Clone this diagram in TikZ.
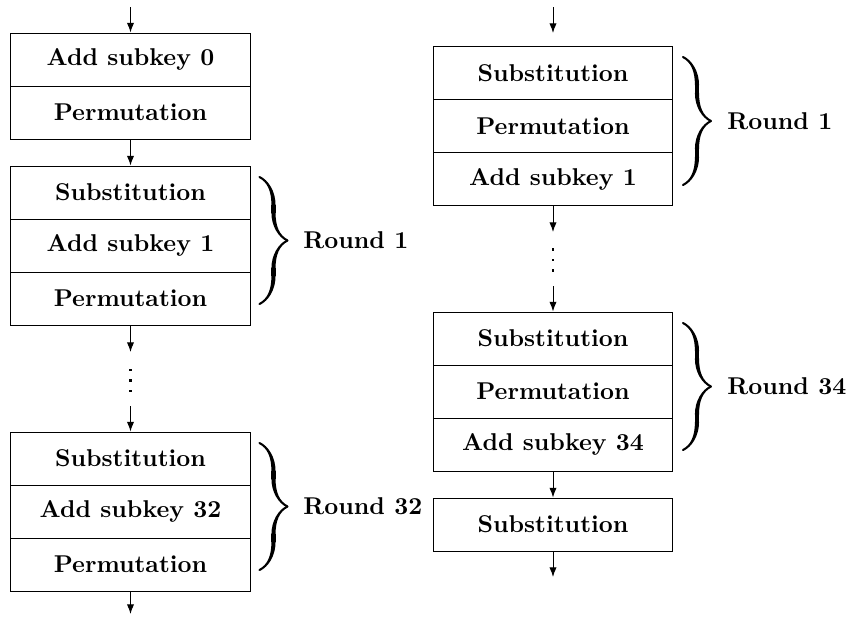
\documentclass[tikz,border=0pt]{standalone}
\usetikzlibrary{arrows.meta,decorations.pathreplacing,calligraphy}
\begin{document}
\begin{tikzpicture}[x=0.4115pt,y=-0.4115pt,
  stage/.style={draw, line width=0.4pt, minimum width=98.55pt, minimum height=21.81pt, inner sep=0pt, font=\bfseries},
  flow/.style={-{Latex[length=4pt,width=3pt]}, line width=0.4pt},
  roundbrace/.style={decorate, decoration={calligraphic brace, amplitude=11.5pt}, line width=1.7pt, pen colour=black},
  roundlabel/.style={anchor=west, inner sep=0pt, font=\bfseries},
  gapdot/.style={rectangle, fill, inner sep=0pt, minimum size=1.1pt}]
\useasboundingbox (0,0) rectangle (849,616);

% ---- left column: 32-round variant ----
\coordinate (Lin) at (130.5,7);
\node[stage] (L0a) at (130.5,59.5) {Add subkey 0};
\node[stage] (L0b) at (130.5,112.5) {Permutation};
\node[stage] (L1a) at (130.5,192.5) {Substitution};
\node[stage] (L1b) at (130.5,245.5) {Add subkey 1};
\node[stage] (L1c) at (130.5,298.5) {Permutation};
\coordinate (Lgap1) at (130.5,352);
\node[gapdot] (Ld1) at (130.5,370) {};
\node[gapdot] (Ld2) at (130.5,380.5) {};
\node[gapdot] (Ld3) at (130.5,391) {};
\coordinate (Lgap2) at (130.5,406);
\node[stage] (L32a) at (130.5,458.5) {Substitution};
\node[stage] (L32b) at (130.5,511.5) {Add subkey 32};
\node[stage] (L32c) at (130.5,564.5) {Permutation};
\coordinate (Lout) at (130.5,614);

\draw[flow] (Lin) -- (L0a.north);
\draw[flow] (L0b.south) -- (L1a.north);
\draw[flow] (L1c.south) -- (Lgap1);
\draw[flow] (Lgap2) -- (L32a.north);
\draw[flow] (L32c.south) -- (Lout);

\coordinate (LB1t) at (259.5,177);
\coordinate (LB1b) at (259.5,304);
\draw[roundbrace] (LB1t) -- (LB1b);
\node[roundlabel] (LR1) at (303,240.5) {Round 1};

\coordinate (LB32t) at (259.5,443);
\coordinate (LB32b) at (259.5,570);
\draw[roundbrace] (LB32t) -- (LB32b);
\node[roundlabel] (LR32) at (303,506.5) {Round 32};

% ---- right column: 34-round variant ----
\coordinate (Rin) at (553,7);
\coordinate (Rinend) at (553,33);
\node[stage] (R1a) at (553,73) {Substitution};
\node[stage] (R1b) at (553,126) {Permutation};
\node[stage] (R1c) at (553,179) {Add subkey 1};
\coordinate (Rgap1) at (553,232);
\node[gapdot] (Rd1) at (553,249.5) {};
\node[gapdot] (Rd2) at (553,260) {};
\node[gapdot] (Rd3) at (553,270.5) {};
\coordinate (Rgap2) at (553,286);
\node[stage] (R34a) at (553,338.5) {Substitution};
\node[stage] (R34b) at (553,391.5) {Permutation};
\node[stage] (R34c) at (553,444.5) {Add subkey 34};
\node[stage] (RF) at (553,524.5) {Substitution};
\coordinate (Rout) at (553,577);

\draw[flow] (Rin) -- (Rinend);
\draw[flow] (R1c.south) -- (Rgap1);
\draw[flow] (Rgap2) -- (R34a.north);
\draw[flow] (R34c.south) -- (RF.north);
\draw[flow] (RF.south) -- (Rout);

\coordinate (RB1t) at (683,57);
\coordinate (RB1b) at (683,185);
\draw[roundbrace] (RB1t) -- (RB1b);
\node[roundlabel] (RR1) at (727,121) {Round 1};

\coordinate (RB34t) at (683,323);
\coordinate (RB34b) at (683,450);
\draw[roundbrace] (RB34t) -- (RB34b);
\node[roundlabel] (RR34) at (727,386.5) {Round 34};
\end{tikzpicture}
\end{document}
